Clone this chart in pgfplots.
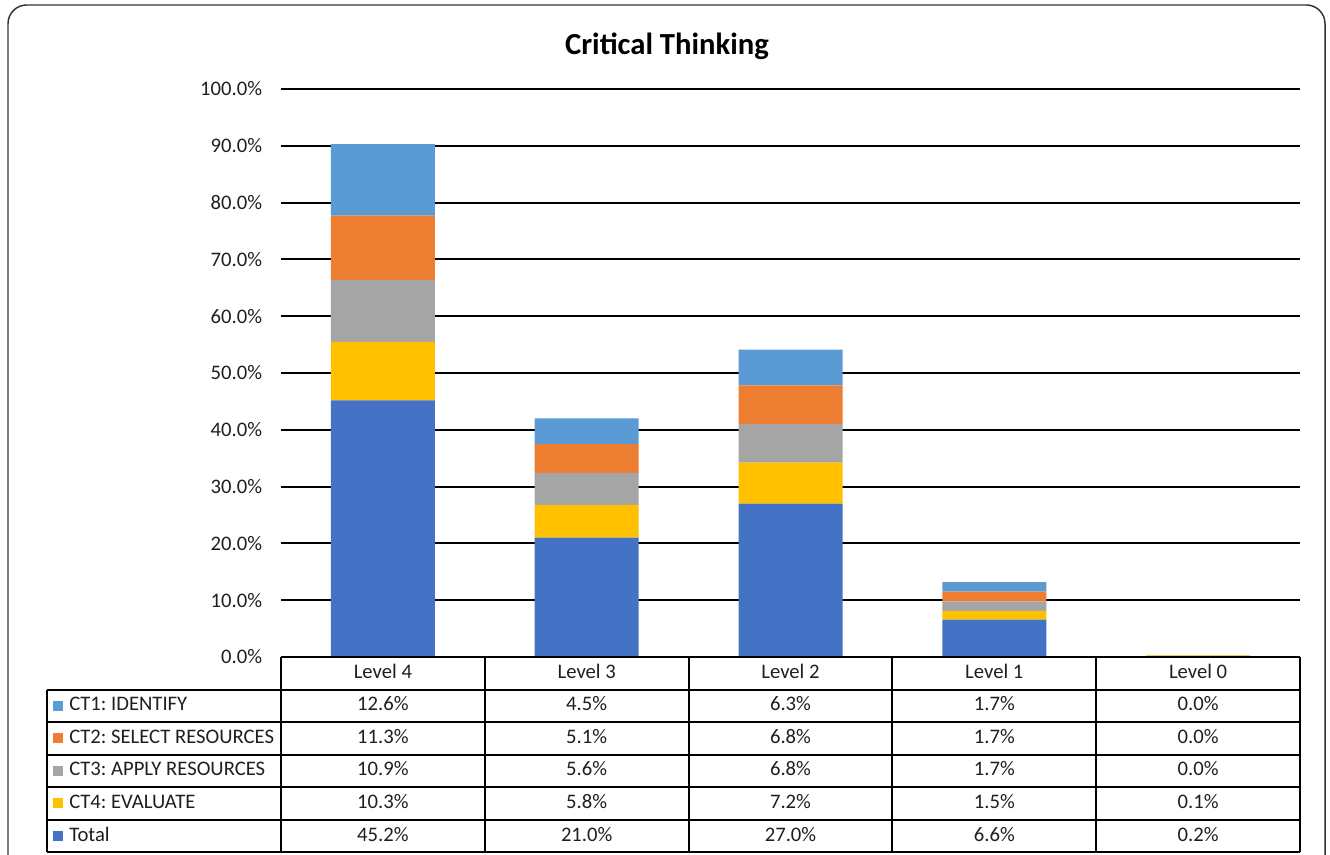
\documentclass[border=0pt]{standalone}
\usepackage{pgfplots}
\usepackage{pgfplotstable}
\pgfplotsset{compat=1.18}
\usepackage{fontspec}
\setmainfont{Carlito}
\frenchspacing

\definecolor{ctone}{HTML}{5B9BD5}
\definecolor{cttwo}{HTML}{ED7D31}
\definecolor{ctthree}{HTML}{A5A5A5}
\definecolor{ctfour}{HTML}{FFC000}
\definecolor{cttotal}{HTML}{4472C4}
\definecolor{txt}{HTML}{1F1F1F}

\pgfplotstableread{
x total ct4 ct3 ct2 ct1
0 45.2 10.3 10.9 11.3 12.6
1 21.0 5.8 5.6 5.1 4.5
2 27.0 7.2 6.8 6.8 6.3
3 6.6 1.5 1.7 1.7 1.7
4 0.2 0.1 0.0 0.0 0.0
}\datatable

\newcommand\tabfont{\fontsize{15.5}{18}\selectfont}

\begin{document}
\begin{tikzpicture}[x=0.75pt,y=0.75pt]
\useasboundingbox (0,0) rectangle (1330,854);
\draw[line width=1.1pt, draw=black!80, rounded corners=14pt] (8,-40) rectangle (1325,849);
\node[font=\bfseries\fontsize{23}{28}\selectfont, text=black] at (667,808) {Critical Thinking};
\begin{axis}[
  at={(210.75pt,147.75pt)}, anchor=south west, scale only axis,
  width=764.25pt, height=426pt,
  ybar stacked, bar width=78pt,
  xmin=-0.5, xmax=4.5, ymin=0, ymax=100,
  ytick={0,10,...,100}, xtick=\empty,
  ymajorgrids, grid style={black, line width=1.5pt},
  axis line style={draw=none}, major tick length=0pt,
  clip=false,
  yticklabel={\pgfmathprintnumber[fixed,fixed zerofill,precision=1,assume math mode=true]{\tick}\%},
  yticklabel style={font=\tabfont, text=txt, inner sep=0pt, anchor=east, xshift=-14pt},
]
\addplot[fill=cttotal, draw=none] table[x=x,y=total]{\datatable};
\addplot[fill=ctfour, draw=none] table[x=x,y=ct4]{\datatable};
\addplot[fill=ctthree, draw=none] table[x=x,y=ct3]{\datatable};
\addplot[fill=cttwo, draw=none] table[x=x,y=ct2]{\datatable};
\addplot[fill=ctone, draw=none] table[x=x,y=ct1]{\datatable};
\end{axis}
% data table grid
\begin{scope}[line width=1.5pt, black]
\draw (281,{854-657}) -- (1300,{854-657});
\foreach \k in {1,...,6} {
  \draw (47,{854-657-\k*32.55}) -- (1300,{854-657-\k*32.55});
}
\draw (47,{854-657-32.55}) -- (47,{854-657-6*32.55});
\foreach \j in {0,...,5} {
  \draw ({281+\j*203.8},{854-657}) -- ({281+\j*203.8},{854-657-6*32.55});
}
\end{scope}
% header
\foreach \lab [count=\j from 0] in {Level 4, Level 3, Level 2, Level 1, Level 0} {
  \node[font=\tabfont, text=txt, text height=0.66em, text depth=0.2em, inner sep=0pt] at ({281+(\j+0.5)*203.8},{854-659-0.5*32.55}) {\lab};
}
% rows
\foreach \c/\lab/\col [count=\i] in {ct1/{CT1: IDENTIFY}/ctone, ct2/{CT2: SELECT RESOURCES}/cttwo, ct3/{CT3: APPLY RESOURCES}/ctthree, ct4/{CT4: EVALUATE}/ctfour, total/Total/cttotal} {
  \pgfmathsetmacro\yc{854-657-(\i+0.5)*32.55}
  \fill[\col] (53,\yc-5) rectangle (63,\yc+5);
  \node[anchor=west, font=\tabfont, text=txt, text height=0.66em, text depth=0.2em, inner sep=0pt] at (69,\yc-2) {\lab};
  \foreach \j in {0,...,4} {
    \pgfmathsetmacro\xc{281+(\j+0.5)*203.8}
    \pgfplotstablegetelem{\j}{\c}\of\datatable
    \let\val\pgfplotsretval
    \node[font=\tabfont, text=txt, text height=0.66em, text depth=0.2em, inner sep=0pt] at (\xc,\yc-2) {\pgfmathprintnumber[fixed,fixed zerofill,precision=1,assume math mode=true]{\val}\%};
  }
}
\end{tikzpicture}
\end{document}
